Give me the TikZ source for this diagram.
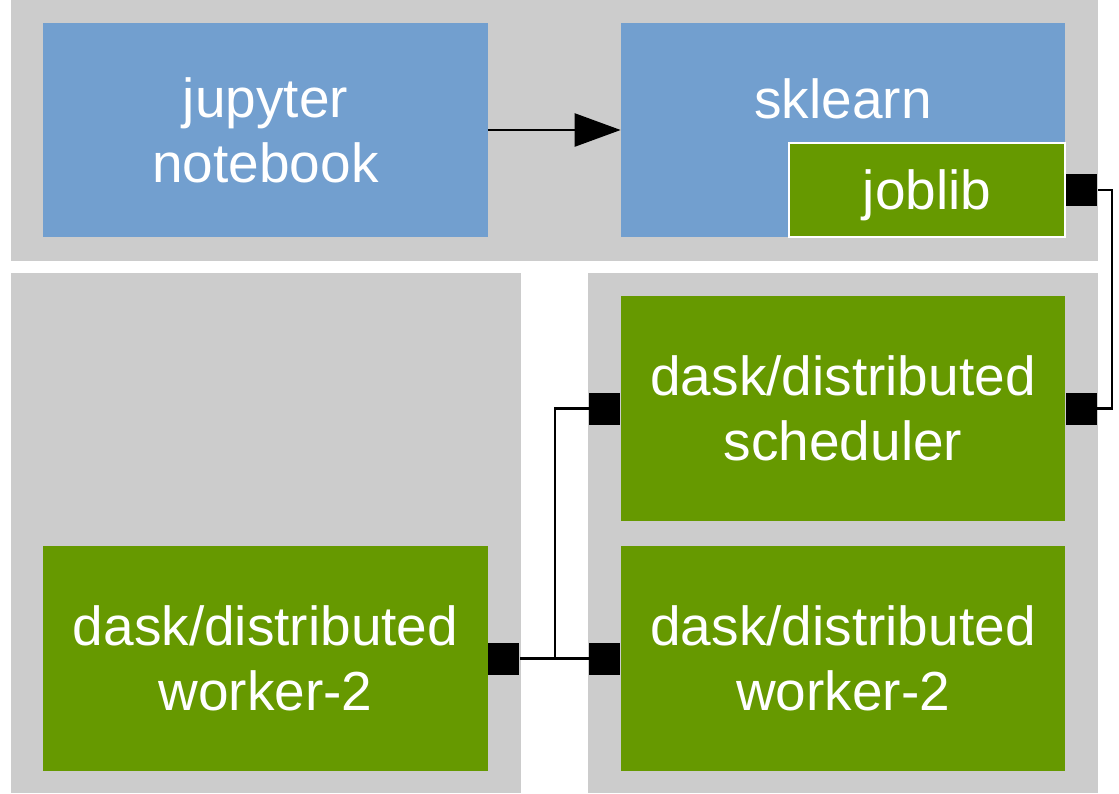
\documentclass[tikz,border=0pt]{standalone}
\usepackage{fontspec}
\setmainfont{Liberation Sans}
\usetikzlibrary{arrows.meta,positioning}
\definecolor{panelgrey}{RGB}{204, 204, 204}
\definecolor{boxblue}{RGB}{114, 159, 207}
\definecolor{boxgreen}{RGB}{102, 153, 0}
\tikzset{
  panel/.style={fill=panelgrey, inner sep=0pt, minimum width=102mm, minimum height=104mm},
  box/.style={inner sep=0pt, text=white, align=center, text depth=0pt,
    font=\fontsize{31.3}{37}\selectfont, minimum width=88.8mm, minimum height=45mm},
  port/.style={fill=black, inner sep=0pt, minimum width=6.2mm, minimum height=6.4mm},
  wire/.style={line width=0.5mm}
}
\begin{document}
\begin{tikzpicture}[x=0.2mm,y=-0.2mm]
\useasboundingbox (0,0) rectangle (1119,793);
\node[panel, minimum width=217.4mm, minimum height=52.2mm] (top) at (554.5,130.5) {};
\node[panel] (left) at (266,533) {};
\node[panel] (right) at (843,533) {};

\node[box, fill=boxblue, minimum height=42.8mm] (NB) at (265.5,130) {jupyter\\notebook};
\node[box, fill=boxblue, minimum height=42.8mm] (SK) at (843,130) {};
\node[box, minimum width=0pt, minimum height=0pt, anchor=base] (SKtext) at (843,118) {sklearn};
\node[box, fill=boxgreen, draw=white, line width=0.45mm, minimum width=55.2mm, minimum height=18.8mm] (JL) at (927,190) {joblib};
\node[box, fill=boxgreen] (SC) at (843,408.5) {dask/distributed\\scheduler};
\node[box, fill=boxgreen] (W1) at (265.5,658.5) {dask/distributed\\worker-2};
\node[box, fill=boxgreen] (W2) at (843,658.5) {dask/distributed\\worker-2};

\node[port, right=0pt of JL] (P1) {};
\node[port, right=0pt of SC] (P2) {};
\node[port, left=0pt of SC] (P3) {};
\node[port, right=0pt of W1] (P4) {};
\node[port, left=0pt of W2] (P5) {};
\coordinate (M) at (555,658.5);

\draw[wire, -{Triangle[length=9.2mm, width=6.6mm]}] (NB) -- (SK);
\draw[wire] (P1.east) -- ++(14,0) |- (P2.east);
\draw[wire] (P3.west) -| (M) -- (P4.east);
\draw[wire] (M) -- (P5.west);
\end{tikzpicture}
\end{document}
